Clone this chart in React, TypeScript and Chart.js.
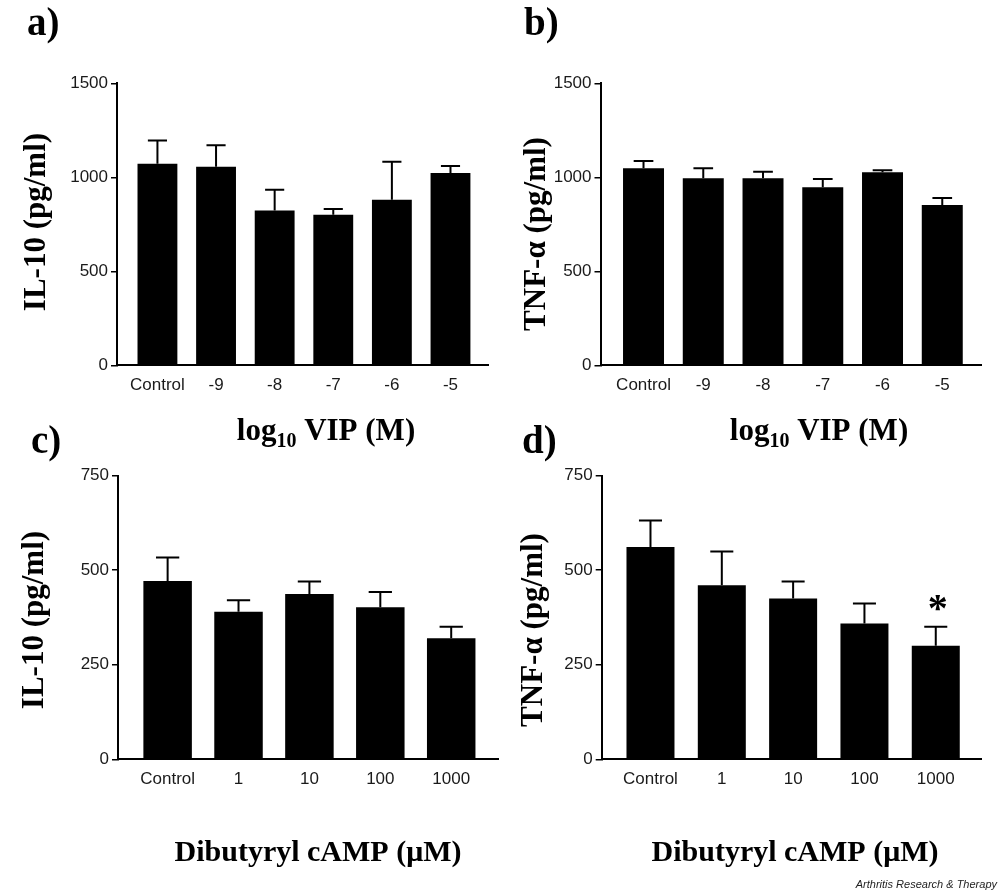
import React, { useEffect, useRef } from "react";
import { Chart, registerables } from "chart.js";
Chart.register(...registerables);

// ---------- data ----------
const vipLabels = ["Control", "-9", "-8", "-7", "-6", "-5"];
const campLabels = ["Control", "1", "10", "100", "1000"];

const il10VipMean = [1072, 1056, 824, 801, 881, 1023];
const il10VipSem = [124, 115, 110, 30, 202, 37];

const tnfVipMean = [1048, 995, 995, 947, 1027, 853];
const tnfVipSem = [39, 53, 35, 44, 10, 37];

const il10CampMean = [471, 390, 437, 402, 320];
const il10CampSem = [62, 30, 33, 40, 30];

const tnfCampMean = [561, 460, 425, 359, 300];
const tnfCampSem = [70, 89, 45, 53, 50];
const tnfCampSig = ["", "", "", "", "*"];

const vipYMax = 1500;
const vipYStep = 500;
const campYMax = 750;
const campYStep = 250;

// ---------- layout ----------
const W = 1000;
const H = 895;
const YAXW = 60;
const XAXH = 30;
const SERIF = '"Liberation Serif", "Times New Roman", serif';
const SANS = '"Liberation Sans", Arial, sans-serif';

type Panel = {
  letter: string;
  labels: string[];
  mean: number[];
  sem: number[];
  sig?: string[];
  yTitle: string;
  xKind: "vip" | "camp";
  yMax: number;
  yStep: number;
  area: { L: number; T: number; R: number; B: number };
  xMin: number;
  xMax: number;
  barPct: number;
  letterPos: [number, number];
  yTitlePos: [number, number];
  xTitlePos: [number, number];
  footer?: boolean;
};

const panels: Panel[] = [
  {
    letter: "a)", labels: vipLabels, mean: il10VipMean, sem: il10VipSem,
    yTitle: "IL-10 (pg/ml)", xKind: "vip", yMax: vipYMax, yStep: vipYStep,
    area: { L: 117, T: 83.3, R: 488, B: 365.3 }, xMin: -0.69, xMax: 5.64, barPct: 0.68,
    letterPos: [27, 35], yTitlePos: [37, 222], xTitlePos: [326, 440],
  },
  {
    letter: "b)", labels: vipLabels, mean: tnfVipMean, sem: tnfVipSem,
    yTitle: "TNF-α (pg/ml)", xKind: "vip", yMax: vipYMax, yStep: vipYStep,
    area: { L: 600.5, T: 83.3, R: 981.7, B: 365.3 }, xMin: -0.72, xMax: 5.66, barPct: 0.686,
    letterPos: [524, 35], yTitlePos: [537, 234], xTitlePos: [819, 440],
  },
  {
    letter: "c)", labels: campLabels, mean: il10CampMean, sem: il10CampSem,
    yTitle: "IL-10 (pg/ml)", xKind: "camp", yMax: campYMax, yStep: campYStep,
    area: { L: 118, T: 475.5, R: 498, B: 759.3 }, xMin: -0.7, xMax: 4.66, barPct: 0.684,
    letterPos: [31, 453], yTitlePos: [35, 620], xTitlePos: [318, 861],
  },
  {
    letter: "d)", labels: campLabels, mean: tnfCampMean, sem: tnfCampSem, sig: tnfCampSig,
    yTitle: "TNF-α (pg/ml)", xKind: "camp", yMax: campYMax, yStep: campYStep,
    area: { L: 601.7, T: 475.5, R: 981.7, B: 759.3 }, xMin: -0.684, xMax: 4.644, barPct: 0.673,
    letterPos: [522, 453], yTitlePos: [534, 630], xTitlePos: [795, 861],
    footer: true,
  },
];

function makeChart(canvas: HTMLCanvasElement, p: Panel) {
  const errorPlugin = {
    id: "errorBars",
    afterDatasetsDraw(chart: any) {
      const ctx = chart.ctx;
      const ys = chart.scales.y;
      const meta = chart.getDatasetMeta(0);
      ctx.save();
      ctx.strokeStyle = "#000";
      ctx.fillStyle = "#000";
      ctx.lineWidth = 2;
      meta.data.forEach((bar: any, i: number) => {
        const { x, y, width } = bar.getProps(["x", "y", "width"], true);
        const top = ys.getPixelForValue(p.mean[i] + p.sem[i]);
        ctx.beginPath();
        ctx.moveTo(x, y);
        ctx.lineTo(x, top);
        ctx.moveTo(x - width * 0.24, top);
        ctx.lineTo(x + width * 0.24, top);
        ctx.stroke();
        if (p.sig && p.sig[i]) {
          ctx.font = `bold 40px ${SERIF}`;
          ctx.textAlign = "center";
          ctx.textBaseline = "alphabetic";
          ctx.fillText(p.sig[i], x + 2, top - 6);
        }
      });
      ctx.restore();
    },
  };

  const textPlugin = {
    id: "panelText",
    afterDraw(chart: any) {
      const ctx = chart.ctx;
      ctx.save();
      ctx.fillStyle = "#000";
      // panel letter
      ctx.font = `bold 39px ${SERIF}`;
      ctx.textAlign = "left";
      ctx.textBaseline = "alphabetic";
      ctx.fillText(p.letter, p.letterPos[0], p.letterPos[1]);
      // y title
      ctx.save();
      ctx.translate(p.yTitlePos[0], p.yTitlePos[1]);
      ctx.rotate(-Math.PI / 2);
      ctx.font = `bold 31px ${SERIF}`;
      ctx.textAlign = "center";
      ctx.textBaseline = "middle";
      ctx.fillText(p.yTitle, 0, 0);
      ctx.restore();
      // x title
      const [cx, by] = p.xTitlePos;
      if (p.xKind === "vip") {
        const main = `bold 31px ${SERIF}`;
        const sub = `bold 20px ${SERIF}`;
        ctx.font = main;
        const w1 = ctx.measureText("log").width;
        const w3 = ctx.measureText(" VIP (M)").width;
        ctx.font = sub;
        const w2 = ctx.measureText("10").width;
        let x = cx - (w1 + w2 + w3) / 2;
        ctx.textAlign = "left";
        ctx.textBaseline = "alphabetic";
        ctx.font = main;
        ctx.fillText("log", x, by);
        x += w1;
        ctx.font = sub;
        ctx.fillText("10", x, by + 7);
        x += w2;
        ctx.font = main;
        ctx.fillText(" VIP (M)", x, by);
      } else {
        ctx.font = `bold 30px ${SERIF}`;
        ctx.textAlign = "center";
        ctx.textBaseline = "alphabetic";
        ctx.fillText("Dibutyryl cAMP (μM)", cx, by);
      }
      if (p.footer) {
        ctx.font = `italic 11px ${SANS}`;
        ctx.textAlign = "right";
        ctx.fillStyle = "#222";
        ctx.fillText("Arthritis Research & Therapy", 997, 888);
      }
      ctx.restore();
    },
  };

  const { L, T, R, B } = p.area;
  return new Chart(canvas, {
    type: "bar",
    data: {
      datasets: [
        {
          data: p.mean.map((v, i) => ({ x: i, y: v })),
          backgroundColor: "#000",
          borderWidth: 0,
          barPercentage: p.barPct,
          categoryPercentage: 1,
        },
      ],
    },
    options: {
      animation: false,
      responsive: false,
      devicePixelRatio: 1,
      events: [],
      layout: {
        padding: { left: L - YAXW, top: T, right: W - R, bottom: H - B - XAXH },
      },
      plugins: { legend: { display: false }, tooltip: { enabled: false } },
      scales: {
        x: {
          type: "linear",
          offset: false,
          min: p.xMin,
          max: p.xMax,
          afterBuildTicks: (s: any) => {
            s.ticks = p.labels.map((_, i) => ({ value: i }));
          },
          afterFit: (s: any) => {
            s.height = XAXH;
          },
          grid: { display: false, drawTicks: false, offset: false },
          border: { display: true, color: "#000", width: 2 },
          ticks: {
            autoSkip: false,
            maxRotation: 0,
            padding: 10,
            color: "#1a1a1a",
            font: { family: SANS, size: 17 },
            callback: (v: any) => p.labels[Math.round(Number(v))] ?? "",
          },
        },
        y: {
          type: "linear",
          min: 0,
          max: p.yMax,
          afterFit: (s: any) => {
            s.width = YAXW;
          },
          grid: { drawOnChartArea: false, drawTicks: true, tickLength: 6, color: "#000", lineWidth: 1.5 },
          border: { display: true, color: "#000", width: 2 },
          ticks: {
            stepSize: p.yStep,
            padding: 3,
            color: "#1a1a1a",
            font: { family: SANS, size: 17 },
            callback: (v: any) => String(v),
          },
        },
      },
    } as any,
    plugins: [errorPlugin, textPlugin],
  });
}

function PanelCanvas({ panel }: { panel: Panel }) {
  const ref = useRef<HTMLCanvasElement | null>(null);
  useEffect(() => {
    if (!ref.current) return;
    const c = makeChart(ref.current, panel);
    return () => c.destroy();
  }, [panel]);
  return (
    <canvas
      ref={ref}
      width={W}
      height={H}
      style={{ position: "absolute", left: 0, top: 0, width: W, height: H }}
    />
  );
}

export default function App() {
  return (
    <div
      style={{
        position: "absolute",
        left: 0,
        top: 0,
        width: W,
        height: H,
        background: "#fff",
        overflow: "hidden",
      }}
    >
      {panels.map((p) => (
        <PanelCanvas key={p.letter} panel={p} />
      ))}
    </div>
  );
}
